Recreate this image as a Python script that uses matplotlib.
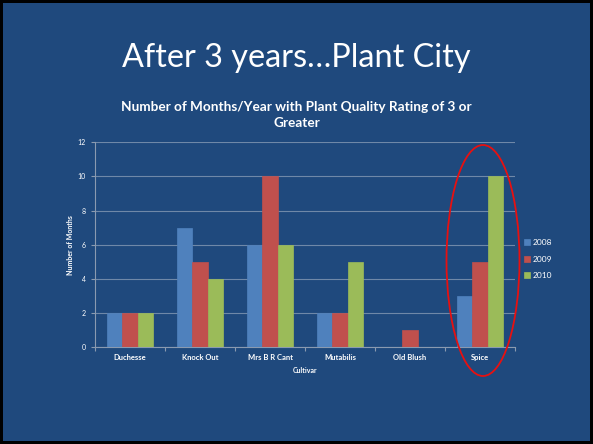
import matplotlib
matplotlib.use("Agg")
import matplotlib.pyplot as plt
from matplotlib.patches import Ellipse, Rectangle
import numpy as np

categories = ["Duchesse", "Knock Out", "Mrs B R Cant", "Mutabilis", "Old Blush", "Spice"]
years = ["2008", "2009", "2010"]
v2008 = [2, 7, 6, 2, 0, 3]
v2009 = [2, 5, 10, 2, 1, 5]
v2010 = [2, 4, 6, 5, 0, 10]
colors = ["#4F81BD", "#C0504D", "#9BBB59"]
bg = "#1F497D"
fontfam = ["Lato", "DejaVu Sans"]
plt.rcParams['font.family'] = fontfam

W, H = 593, 444
fig = plt.figure(figsize=(W/100, H/100), dpi=100)
fig.patch.set_facecolor("black")
fig.add_artist(Rectangle((3/W, 3/H), (W-6)/W, (H-6)/H, transform=fig.transFigure,
                         facecolor=bg, edgecolor="none", zorder=-10))

ax = fig.add_axes([95/W, 1-347.3/H, 420/W, 205/H])
ax.set_facecolor("none")
x = np.arange(len(categories))
bw = 0.22
for i, (vals, c) in enumerate(zip([v2008, v2009, v2010], colors)):
    ax.bar(x + (i-1)*bw, vals, bw, color=c, edgecolor=c, linewidth=0.5, label=years[i], zorder=3)

ax.set_xlim(-0.5, len(categories)-0.5)
ax.set_ylim(0, 12)
ax.set_yticks(range(0, 13, 2))
ax.grid(axis="y", color="#6F88A8", linewidth=0.8, zorder=0)
ax.set_xticks(x)
ax.set_xticklabels(categories, fontsize=5.5, color="white", fontweight="bold")
ax.set_xticks(np.arange(-0.5, len(categories), 1), minor=True)
ax.tick_params(axis="x", which="major", length=0, pad=5)
ax.tick_params(axis="x", which="minor", length=3, color="#8A9AB0", width=0.8)
ax.tick_params(axis="y", labelsize=5, colors="white", length=3, width=0.8)
ax.tick_params(axis="y", color="#8A9AB0")
for s in ["top", "right"]:
    ax.spines[s].set_visible(False)
for s in ["left", "bottom"]:
    ax.spines[s].set_color("#8A9AB0")
    ax.spines[s].set_linewidth(0.8)
ax.set_ylabel("Number of Months", fontsize=5, color="white", fontweight="bold", labelpad=3)
ax.set_xlabel("Cultivar", fontsize=5, color="white", fontweight="bold", labelpad=4)

leg = fig.legend(*ax.get_legend_handles_labels(), loc="center left",
                 bbox_to_anchor=(524/W, 1-259/H), frameon=False, fontsize=6,
                 handlelength=0.7, handleheight=0.7, handletextpad=0.3, labelspacing=1.1,
                 labelcolor="white", borderaxespad=0, borderpad=0)

fig.text(0.5, 1-58/H, "After 3 years…Plant City", ha="center", va="center",
         fontsize=23.3, color="white")
fig.text(0.5, 1-115/H, "Number of Months/Year with Plant Quality Rating of 3 or\nGreater",
         ha="center", va="center", fontsize=9.8, color="white", fontweight="bold",
         linespacing=1.35)

fig.add_artist(Ellipse((483/100, (H-260.5)/100), 0.73, 2.31, transform=fig.dpi_scale_trans,
                       facecolor="none", edgecolor="#E81010", linewidth=1.3, zorder=20))

fig.savefig("out.png", dpi=100, facecolor=fig.get_facecolor())
